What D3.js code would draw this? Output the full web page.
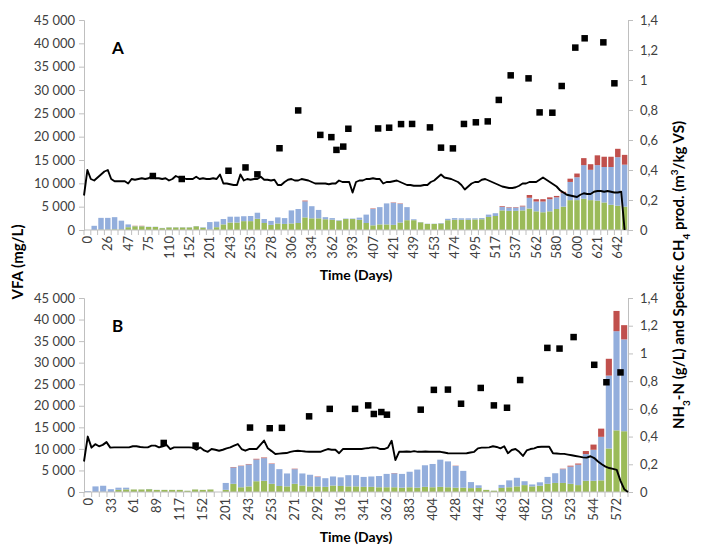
<!DOCTYPE html>
<html><head><meta charset="utf-8">
<script src="https://cdn.jsdelivr.net/npm/d3@7"></script>
<style>
body{margin:0;background:#fff}
svg{display:block}
text{font-family:Lato,"Open Sans","Liberation Sans",sans-serif}
</style>
</head><body>
<svg id="chart" width="709" height="555"></svg>
<script>
// ---------- Panel A data ----------
const labelsA = [0,26,47,75,110,152,201,243,253,278,306,334,362,393,407,421,439,453,474,495,517,537,562,580,600,621,642];
const greenA = [0,0,100,100,150,150,600,800,800,650, 650,400,550,550,550,550,800,500,100,600, 1200,1600,1600,1900,1900,2400,1500,1100,1400,1300, 1400,1500,2700,2500,2500,2300,2200,2000,2350,2350, 2200,1500,1000,1200,1200,1100,1600,2100,2100,1650, 1300,1300,1400,2100,2200,2200,2200,2250,2300,2800, 3000,4200,4100,4100,4200,4600,4000,3800,4000,4500, 5000,6400,6400,6700,6400,6300,5900,5400,5200,5000];
const blueA = [0,900,2500,2500,2600,1850,600,50,50,50, 50,50,50,50,50,50,50,100,1600,1200, 1150,1250,1250,1050,1100,1300,850,850,1300,1250, 2800,3000,3450,2600,1800,450,350,100,100,100, 450,1800,3500,3700,4500,4720,4020,2800,200,50, 50,50,100,300,350,300,300,250,250,500, 600,750,700,700,850,2300,2100,2300,2600,2500, 2900,3900,4900,7200,6500,7600,7600,8100,10400,9000];
const redA = [0,0,0,0,0,0,0,50,50,0, 0,0,0,0,0,0,0,0,0,0, 0,0,0,0,0,0,0,0,0,0, 0,0,150,0,0,0,0,0,0,0, 0,0,100,0,0,80,80,0,0,0, 0,0,0,0,0,0,0,0,0,0, 0,150,100,100,150,600,500,500,400,300, 300,700,800,1500,1200,2100,2200,2200,1800,2100];
// NH3-N (g/L), one reading every 4 days
const nh3A = [0.23,0.40,0.34,0.33,0.35,0.37,0.39,0.40,0.34,0.325,
0.325,0.325,0.325,0.31,0.34,0.335,0.34,0.345,0.34,0.345,
0.36,0.345,0.345,0.34,0.345,0.33,0.34,0.36,0.35,0.35,
0.34,0.34,0.34,0.355,0.34,0.345,0.34,0.34,0.345,0.34,
0.37,0.31,0.31,0.305,0.30,0.30,0.37,0.33,0.34,0.335,
0.34,0.34,0.355,0.335,0.335,0.33,0.335,0.30,0.30,0.32,
0.335,0.34,0.33,0.33,0.34,0.335,0.33,0.32,0.31,0.31,
0.31,0.31,0.305,0.31,0.31,0.33,0.32,0.32,0.32,0.25,
0.32,0.33,0.33,0.34,0.34,0.345,0.34,0.34,0.31,0.32,
0.32,0.325,0.33,0.32,0.31,0.30,0.30,0.295,0.295,0.295,
0.30,0.30,0.32,0.33,0.35,0.37,0.35,0.345,0.34,0.33,
0.32,0.30,0.27,0.29,0.31,0.32,0.32,0.335,0.34,0.33,
0.32,0.31,0.30,0.29,0.285,0.28,0.28,0.285,0.295,0.31,
0.31,0.32,0.32,0.32,0.335,0.35,0.335,0.32,0.305,0.29,
0.265,0.25,0.235,0.23,0.225,0.22,0.235,0.245,0.24,0.24,
0.255,0.26,0.26,0.255,0.26,0.255,0.25,0.25,0.255,0];
const ch4DayA = [81,115,170,190,204,230,252,278,291,297,305,311,346,359,373,386,407,420,434,447,461,475,488,502,523,536,551,562,578,589,611,624];
const ch4A = [0.36,0.34,0.395,0.417,0.371,0.545,0.797,0.634,0.619,0.534,0.556,0.675,0.677,0.682,0.706,0.707,0.684,0.549,0.544,0.707,0.718,0.724,0.867,1.031,1.011,0.784,0.782,0.96,1.216,1.278,1.251,0.978];

// ---------- Panel B data ----------
const labelsB = [0,33,61,89,117,152,201,243,253,271,292,316,341,362,383,404,428,442,463,482,502,523,544,572];
const greenB = [0,0,50,0,500,600,580,580,650,480, 480,480,480,280,580,480,580,0,500,1900, 1100,1300,2500,2600,1900,1400,1300,1900,1500,1300, 1300,1200,1500,1400,1300,1300,1200,1200,1100,1100, 1100,1000,1100,1000,1200,1100,1200,1100,1000,1000, 900,950,480,300,950,1100,1300,1600,1300,1450, 1900,2100,2100,1900,1600,2600,2600,2700,10100,14300, 14100];
const blueB = [200,1300,1400,650,500,400,20,20,50,20, 20,20,20,20,20,20,20,0,1600,3800, 4920,5100,5050,5250,4600,3900,3000,3400,2800,2700, 2220,2000,2100,2000,2600,2600,2300,2400,2600,3100, 3240,3200,3600,4200,5000,5400,6300,6000,5040,3900, 1400,600,20,20,700,1600,2000,900,450,800, 1600,2250,3200,4000,4750,6200,7200,10100,16900,23000, 21300];
const redB = [0,0,0,0,0,0,0,0,0,0, 0,0,0,0,0,0,0,0,0,100, 80,100,150,150,100,0,0,100,0,0, 80,0,0,0,0,0,0,0,0,0, 60,0,0,0,0,0,0,0,60,0, 0,0,0,0,0,0,0,0,0,0, 0,0,100,200,250,700,1200,1900,3900,4700, 3300];
const nh3B = [0.22,0.40,0.32,0.345,0.33,0.34,0.36,0.32,0.322,0.322,
0.322,0.322,0.322,0.33,0.33,0.325,0.322,0.322,0.335,0.335,
0.322,0.33,0.34,0.31,0.322,0.322,0.322,0.322,0.322,0.32,
0.305,0.322,0.30,0.29,0.31,0.305,0.298,0.305,0.315,0.322,
0.335,0.346,0.31,0.298,0.31,0.31,0.31,0.34,0.371,0.315,
0.295,0.274,0.277,0.28,0.281,0.29,0.295,0.298,0.295,0.292,
0.29,0.29,0.29,0.29,0.30,0.31,0.305,0.305,0.28,0.31,
0.31,0.31,0.31,0.31,0.31,0.315,0.318,0.322,0.32,0.31,
0.31,0.32,0.37,0.23,0.29,0.29,0.292,0.29,0.295,0.29,
0.29,0.292,0.29,0.29,0.29,0.29,0.285,0.28,0.279,0.279,
0.279,0.279,0.28,0.285,0.29,0.315,0.32,0.32,0.322,0.33,
0.325,0.315,0.33,0.28,0.303,0.31,0.29,0.26,0.30,0.31,
0.315,0.325,0.327,0.327,0.327,0.28,0.278,0.275,0.275,0.27,
0.265,0.26,0.255,0.25,0.248,0.258,0.245,0.22,0.20,0.183,
0.173,0.167,0.16,0.08,0.02,0];
const ch4DayB = [85,119,177,198,211,240,262,289,303,309,317,323,359,373,388,402,423,437,451,465,494,507,522,544,557,572];
const ch4B = [0.354,0.335,0.465,0.46,0.463,0.546,0.60,0.60,0.625,0.563,0.577,0.558,0.594,0.737,0.739,0.637,0.751,0.625,0.608,0.808,1.04,1.035,1.118,0.918,0.792,0.863];

const nh3Step = 4;           // days between NH3-N readings
const vfaTicks = d3.range(0, 45001, 5000);
const rightTicks = d3.range(0, 1.41, 0.2);

// ---------- drawing ----------
const svg = d3.select("#chart");
const colors = {green:"#9BBB59", blue:"#93AEDC", red:"#C0504D"};
const axisCol = "#BFBFBF", textCol = "#404040";
const fmtVfa = d => d3.format(",")(d).replace(/,/g, "\u00a0");
const fmtRight = d => { const v = Math.round(d*10)/10; return String(v).replace(".", ","); };

function panel(cfg) {
  const {green, blue, red, labels, nh3, chDays, ch, dayMax, top, bottom, left, right, letter} = cfg;
  const n = green.length;
  const rows = d3.range(n).map(i => ({i, green: green[i], blue: blue[i], red: red[i]}));
  const x = d3.scaleBand().domain(d3.range(n)).range([left, right]).paddingInner(0.2).paddingOuter(0.1);
  const xDay = d3.scaleLinear().domain([0, dayMax]).range([left, right]);
  const yL = d3.scaleLinear().domain([0, 45000]).range([bottom, top]);
  const yR = d3.scaleLinear().domain([0, 1.4]).range([bottom, top]);
  const g = svg.append("g");

  // stacked bars
  const series = d3.stack().keys(["green","blue","red"])(rows);
  g.append("g").selectAll("g").data(series).join("g")
    .attr("fill", s => colors[s.key])
    .selectAll("rect").data(s => s).join("rect")
    .attr("x", d => x(d.data.i))
    .attr("width", x.bandwidth())
    .attr("y", d => yL(d[1]))
    .attr("height", d => Math.max(0, yL(d[0]) - yL(d[1])));

  // left axis
  const ax = g.append("g").attr("transform", `translate(${left},0)`)
    .call(d3.axisLeft(yL).tickValues(vfaTicks).tickFormat(fmtVfa).tickSize(5).tickPadding(4));
  // right axis
  const ar = g.append("g").attr("transform", `translate(${right},0)`)
    .call(d3.axisRight(yR).tickValues(rightTicks).tickFormat(fmtRight).tickSize(5).tickPadding(7));
  // bottom axis (labels every 3rd category)
  const labelIdx = labels.map((_, k) => k*3);
  const ab = g.append("g").attr("transform", `translate(0,${bottom})`)
    .call(d3.axisBottom(x).tickValues(labelIdx).tickFormat(i => labels[i/3]).tickSize(0));
  ab.selectAll("text")
    .attr("transform", "rotate(-90)")
    .attr("x", -6).attr("y", 0).attr("dy", "0.36em")
    .style("text-anchor", "end");
  // category boundary tick marks
  ab.append("g").selectAll("line").data(d3.range(n + 1)).join("line")
    .attr("x1", i => left + i * x.step()).attr("x2", i => left + i * x.step())
    .attr("y1", 0).attr("y2", 5).attr("stroke", axisCol);

  [ax, ar, ab].forEach(a => {
    a.selectAll(".domain").attr("stroke", axisCol);
    a.selectAll(".tick line").attr("stroke", axisCol);
    a.selectAll("text").attr("fill", textCol).style("font-size", "13px")
      .style("font-family", 'Lato,"Open Sans",sans-serif');
  });
  ab.select(".domain").attr("d", `M${left},0H${right}`);

  // NH3-N line
  const line = d3.line().x((d, k) => xDay(k * nh3Step)).y(d => yR(d));
  g.append("path").datum(nh3).attr("d", line)
    .attr("fill", "none").attr("stroke", "#000").attr("stroke-width", 1.9)
    .attr("stroke-linejoin", "round");

  // specific CH4 production markers
  const s = 6.5;
  g.append("g").selectAll("rect").data(ch).join("rect")
    .attr("x", (d, k) => xDay(chDays[k]) - s/2)
    .attr("y", d => yR(d) - s/2)
    .attr("width", s).attr("height", s).attr("fill", "#000");

  // panel letter
  g.append("text").attr("x", left + 28).attr("y", top + 34)
    .style("font-size", "17px").style("font-weight", "bold").attr("fill", "#000").text(letter);

  // x title
  g.append("text").attr("x", (left + right) / 2).attr("y", bottom + 50)
    .attr("text-anchor", "middle").style("font-size", "14px").style("font-weight", "bold")
    .attr("fill", "#000").text("Time (Days)");
}

panel({green: greenA, blue: blueA, red: redA, labels: labelsA, nh3: nh3A,
       chDays: ch4DayA, ch: ch4A, dayMax: 640, top: 20, bottom: 230, left: 84, right: 628, letter: "A"});
panel({green: greenB, blue: blueB, red: redB, labels: labelsB, nh3: nh3B,
       chDays: ch4DayB, ch: ch4B, dayMax: 580, top: 298, bottom: 492, left: 84, right: 628, letter: "B"});

// y titles
svg.append("text").attr("transform", "translate(23,262) rotate(-90)")
  .attr("text-anchor", "middle").style("font-size", "15px").style("font-weight", "bold")
  .text("VFA (mg/L)");

const rt = svg.append("text").attr("transform", "translate(684,275) rotate(-90)")
  .attr("text-anchor", "middle").style("font-size", "15px").style("font-weight", "bold");
const parts = [["NH",0],["3",-1],["-N (g/L) and Specific CH",0],["4",-1],[" prod. (m",0],["3",1],["/kg VS)",0]];
parts.forEach(([t, m]) => {
  const ts = rt.append("tspan").text(t);
  if (m === -1) ts.attr("baseline-shift", "sub").style("font-size", "10px");
  if (m === 1) ts.attr("baseline-shift", "super").style("font-size", "10px");
});
</script>
</body></html>
